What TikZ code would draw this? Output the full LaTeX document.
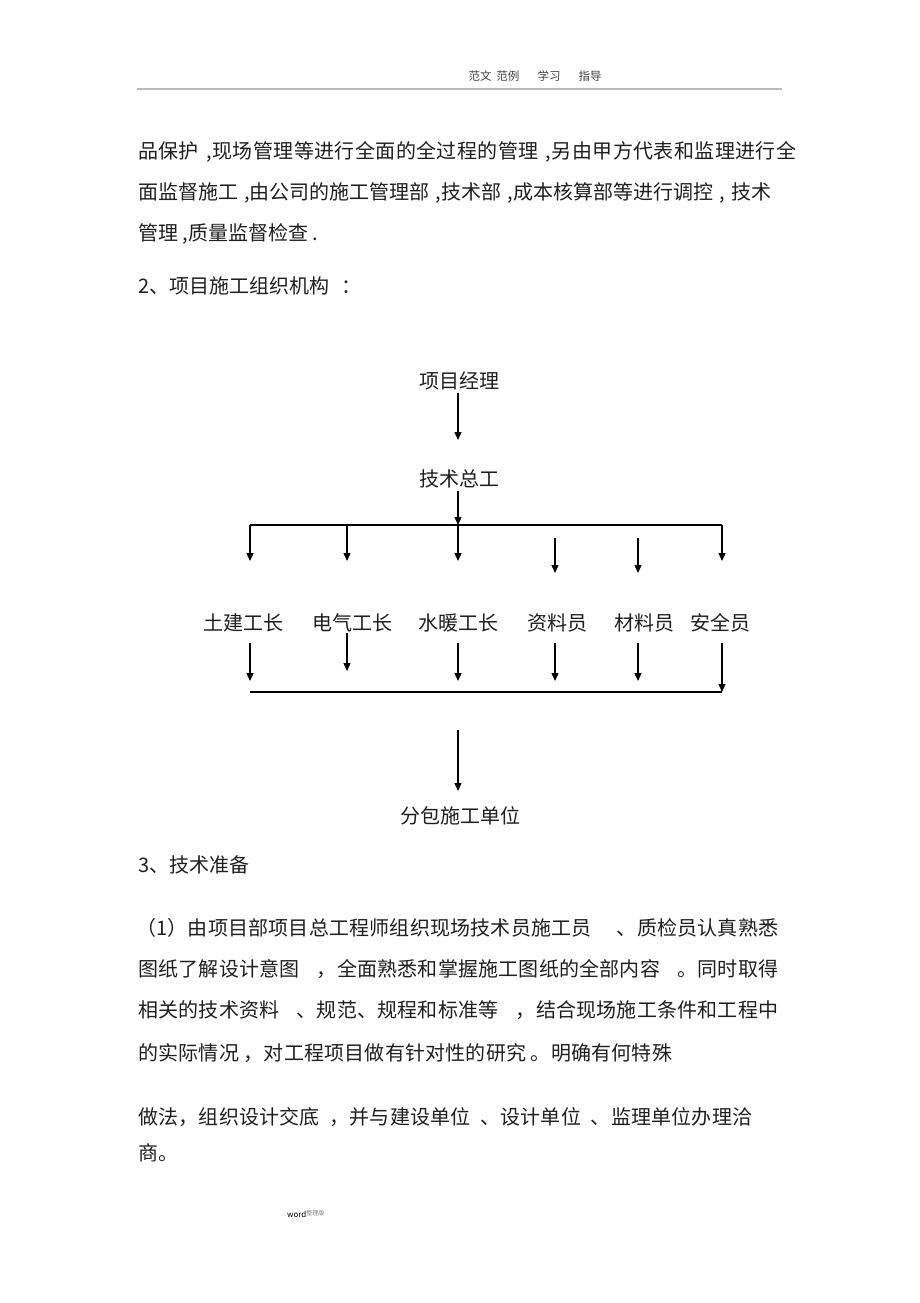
\documentclass[tikz,border=0pt]{standalone}
\usepackage{fontspec}
\setmainfont{Noto Sans CJK SC}
\usetikzlibrary{arrows.meta}
\newcommand{\spr}{\addfontfeature{LetterSpace=2}}
\begin{document}
\begin{tikzpicture}[x=1pt,y=-1pt,
  txt/.style={inner sep=0pt, font=\fontsize{20}{24}\selectfont, text height=17.6pt, text depth=2.4pt, text=black!88},
  lbl/.style={txt, anchor=center},
  para/.style={txt, anchor=west},
  arr/.style={line width=1.3pt, -{Triangle[length=8pt,width=7pt]}},
  bus/.style={line width=1.3pt}]
\useasboundingbox[fill=white] (0,0) rectangle (920,1303);
% header
\node[inner sep=0pt, font=\fontsize{11.5}{13}\selectfont, text=black!75] (hdr) at (535,76) {范文\hspace{5pt}范例\hspace{18pt}学习\hspace{18pt}指导};
\draw[gray!55, line width=1.5pt] (137,89) -- (782,89);
% body text above
\node[para] (l1) at (138,151) {\makebox[658pt][s]{\spr 品保护 ,现场管理等进行全面的全过程的管理 ,另由甲方代表和监理进行全}};
\node[para] (l2) at (138,192) {\makebox[633pt][s]{面监督施工 ,由公司的施工管理部 ,技术部 ,成本核算部等进行调控 , 技术}};
\node[para] (l3) at (138,233) {管理 ,质量监督检查 .};
\node[para] (l4) at (138,286) {2、项目施工组织机构\hspace{12pt}：};
% diagram
\node[lbl] (pm) at (459,381) {项目经理};
\node[lbl] (te) at (459,479) {技术总工};
\node[lbl] (w1) at (243,623) {土建工长};
\node[lbl] (w2) at (352,623) {电气工长};
\node[lbl] (w3) at (458,623) {水暖工长};
\node[lbl] (w4) at (557,623) {资料员};
\node[lbl] (w5) at (644,623) {材料员};
\node[lbl] (w6) at (720,623) {安全员};
\node[lbl] (sub) at (460,816) {分包施工单位};
% coordinates
\coordinate (pmend) at (458,440);
\coordinate (bL) at (250,525);
\coordinate (bM) at (458,525);
\coordinate (bR) at (722,525);
\coordinate (b2) at (347,525);
\coordinate (d1) at (250,561);
\coordinate (d2) at (347,561);
\coordinate (d3) at (458,561);
\coordinate (d4s) at (555,538);
\coordinate (d4) at (555,573);
\coordinate (d5s) at (638,538);
\coordinate (d5) at (638,573);
\coordinate (d6) at (722,561);
\coordinate (u1) at (250,643);
\coordinate (u2) at (347,633);
\coordinate (u3) at (458,643);
\coordinate (u4) at (555,643);
\coordinate (u5) at (638,643);
\coordinate (u6) at (722,643);
\coordinate (e1) at (250,681);
\coordinate (e2) at (347,671);
\coordinate (e3) at (458,681);
\coordinate (e4) at (555,681);
\coordinate (e5) at (638,681);
\coordinate (cL) at (250,692);
\coordinate (cR) at (722,692);
\coordinate (fs) at (458,730);
\coordinate (fe) at (458,791);
% connectors
\draw[arr] ([yshift=-2pt]pm.south -| pmend) -- (pmend);
\draw[arr] ([yshift=-2pt]te.south -| bM) -- (bM);
\draw[bus] (bL) -- (bR);
\draw[arr] (bL) -- (d1);
\draw[arr] (b2) -- (d2);
\draw[arr] (bM) -- (d3);
\draw[arr] (d4s) -- (d4);
\draw[arr] (d5s) -- (d5);
\draw[arr] (bR) -- (d6);
\draw[arr] (u1) -- (e1);
\draw[arr] (u2) -- (e2);
\draw[arr] (u3) -- (e3);
\draw[arr] (u4) -- (e4);
\draw[arr] (u5) -- (e5);
\draw[arr] (u6) -- (cR);
\draw[bus] (cL) -- (cR);
\draw[arr] (fs) -- (fe);
% body text below
\node[para] (h3) at (138,865) {3、技术准备};
\node[para] (p1) at (136,928) {\makebox[642pt][s]{\addfontfeature{LetterSpace=1}（1）由项目部项目总工程师组织现场技术员施工员 \hspace{4pt} 、质检员认真熟悉}};
\node[para] (p2) at (138,969) {\makebox[640pt][s]{\addfontfeature{LetterSpace=1}图纸了解设计意图 ，全面熟悉和掌握施工图纸的全部内容 。同时取得}};
\node[para] (p3) at (138,1010) {\makebox[640pt][s]{\addfontfeature{LetterSpace=1}相关的技术资料 、规范、规程和标准等 ，结合现场施工条件和工程中}};
\node[para] (p4) at (138,1053) {\addfontfeature{LetterSpace=1}的实际情况 ，对工程项目做有针对性的研究 。明确有何特殊};
\node[para] (p5) at (138,1117) {\makebox[614pt][s]{\addfontfeature{LetterSpace=1}做法，组织设计交底 ，并与建设单位 、设计单位 、监理单位办理洽}};
\node[para] (p6) at (138,1153) {商。};
% footer
\node[inner sep=0pt, anchor=west, font=\fontsize{8}{9}\selectfont] (ft) at (287,1214) {word\raisebox{2.5pt}{\fontsize{6}{7}\selectfont\color{gray}整理版}};
\end{tikzpicture}
\end{document}
